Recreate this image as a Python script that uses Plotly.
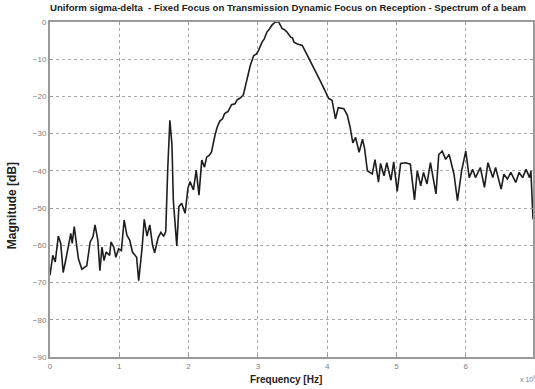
import plotly.graph_objects as go

# Frequency in units of 1e6 Hz, magnitude in dB
freq = [0.00, 0.04, 0.075, 0.12, 0.155, 0.19, 0.235, 0.30, 0.32, 0.35, 0.375, 0.41, 0.46, 0.53,
        0.58, 0.62, 0.65, 0.69, 0.72, 0.75, 0.78, 0.81, 0.86, 0.88, 0.92, 0.95, 0.99, 1.03,
        1.07, 1.11, 1.15, 1.19, 1.25, 1.28, 1.33, 1.36, 1.40, 1.44, 1.48, 1.51, 1.56, 1.60,
        1.64, 1.67, 1.70, 1.73, 1.76, 1.78, 1.83, 1.86, 1.90, 1.95, 1.99, 2.02, 2.07, 2.11,
        2.15, 2.19, 2.23, 2.26, 2.30, 2.33, 2.38, 2.41, 2.45, 2.49, 2.52, 2.57, 2.62, 2.67,
        2.70, 2.74, 2.79, 2.84, 2.89, 2.94, 2.98, 3.01, 3.06, 3.09, 3.13, 3.17, 3.20, 3.25,
        3.30, 3.35, 3.38, 3.42, 3.47, 3.50, 3.52, 3.57, 3.64, 3.69, 3.73, 3.78, 3.84, 3.90,
        3.97, 4.00, 4.02, 4.07, 4.12, 4.16, 4.24, 4.29,
        4.33, 4.37, 4.41, 4.46, 4.51, 4.54, 4.58, 4.65, 4.69, 4.74, 4.77, 4.82, 4.86, 4.92,
        4.96, 5.01, 5.06, 5.13, 5.20, 5.26, 5.30, 5.35, 5.39, 5.44, 5.49, 5.57, 5.61, 5.66,
        5.71, 5.76, 5.83, 5.88, 5.94, 6.00, 6.05, 6.10, 6.14, 6.21, 6.27, 6.32, 6.39, 6.43,
        6.51, 6.55, 6.60, 6.65, 6.72, 6.77, 6.82, 6.87, 6.92, 6.94, 6.97]
magnitude = [-68, -62.7, -64.5, -57.5, -59.5, -67.3, -63.2, -56.8, -59.5, -55, -58.6, -63.6, -66.4, -65.5,
             -59.1, -57.7, -54.5, -58.6, -66.8, -60.5, -64.1, -61.8, -62.7, -59.1, -60.5, -63.2, -60.9, -61.4,
             -53.2, -57.3, -58.6, -61.8, -63.2, -69.5, -60.5, -53, -57.5, -54.5, -60, -62, -58, -56.5,
             -57.6, -56.3, -39, -26.4, -33, -48, -60.2, -49.6, -48.7, -51.4, -44.7, -42.9, -45.1, -39.8,
             -46.5, -37.1, -39, -36.3, -35.8, -35, -30.5, -28.4, -26.6, -26.0, -24.6, -24.0, -22.2, -22.0,
             -20.9, -20.5, -19.6, -15.3, -11.7, -9.0, -8.6, -7.6, -5.4, -4.6, -2.7, -1.8, -0.9, 0,
             0, -1.8, -2.0, -2.7, -4.0, -4.3, -5.4, -5.9, -6.3, -8.1, -9.5, -11.3, -13.5, -15.8,
             -18.5, -20.0, -20.5, -21, -26, -23, -23.3, -25,
             -28.2, -32.5, -31, -35, -31.5, -34, -40, -40.8, -37, -43, -38, -41.3, -37.8, -42.5,
             -37.6, -45.5, -38, -37.8, -38.2, -47.8, -40, -44, -40.4, -43.5, -37.8, -46.2, -35.6, -34.7,
             -36.9, -35.6, -40.9, -48, -40, -34.7, -41.8, -39.6, -41.8, -39.1, -44.4, -37.8, -41.8, -39.1,
             -44.9, -40.9, -42.2, -40.4, -43.1, -40.4, -41.8, -39.6, -41.8, -40, -53]

x_ticks = [0, 1, 2, 3, 4, 5, 6, 7]
y_ticks = [0, -10, -20, -30, -40, -50, -60, -70, -80, -90]

title_text = "Uniform sigma-delta  - Fixed Focus on Transmission Dynamic Focus on Reception - Spectrum of a beam"
x_label = "Frequency [Hz]"
y_label = "Magnitude [dB]"

FONT = "Liberation Sans, Arial, sans-serif"
AX = "#9a9a9a"

fig = go.Figure()
fig.add_trace(go.Scatter(x=freq, y=magnitude, mode="lines",
                         line=dict(color="#1e1e1e", width=1.6), showlegend=False))

axis_common = dict(showline=True, linecolor=AX, linewidth=2, mirror="ticks",
                   showgrid=True, gridcolor="#a8a8a8", gridwidth=1, griddash="dot",
                   ticks="inside", ticklen=3, tickcolor=AX, zeroline=False,
                   tickfont=dict(family=FONT, size=8, color="#808080"))

fig.update_layout(
    width=535, height=389,
    margin=dict(l=50, r=0, t=22, b=32),
    paper_bgcolor="white", plot_bgcolor="white",
    font=dict(family=FONT),
    xaxis=dict(range=[0, 6.97], tickvals=x_ticks, **axis_common),
    yaxis=dict(range=[-90, 0], tickvals=y_ticks, **axis_common),
    annotations=[
        dict(text="<b>" + title_text + "</b>", xref="paper", yref="paper",
             x=-0.004, y=1.042, xanchor="left", yanchor="middle", showarrow=False,
             font=dict(family=FONT, size=9.6, color="#222")),
        dict(text="<b>" + y_label + "</b>", xref="paper", yref="paper",
             x=-0.078, y=0.451, xanchor="center", yanchor="middle", textangle=-90,
             showarrow=False, font=dict(family=FONT, size=12, color="#222")),
        dict(text="<b>" + x_label + "</b>", xref="paper", yref="paper",
             x=0.489, y=-0.066, xanchor="center", yanchor="middle",
             showarrow=False, font=dict(family=FONT, size=10, color="#222")),
        dict(text="x 10<sup>6</sup>", xref="paper", yref="paper",
             x=0.969, y=-0.066, xanchor="left", yanchor="middle",
             showarrow=False, font=dict(family=FONT, size=7, color="#808080")),
    ],
)

fig.write_html("out.html", config={"displayModeBar": False},
               post_script="document.body.style.margin='0';document.body.style.overflow='hidden';")
